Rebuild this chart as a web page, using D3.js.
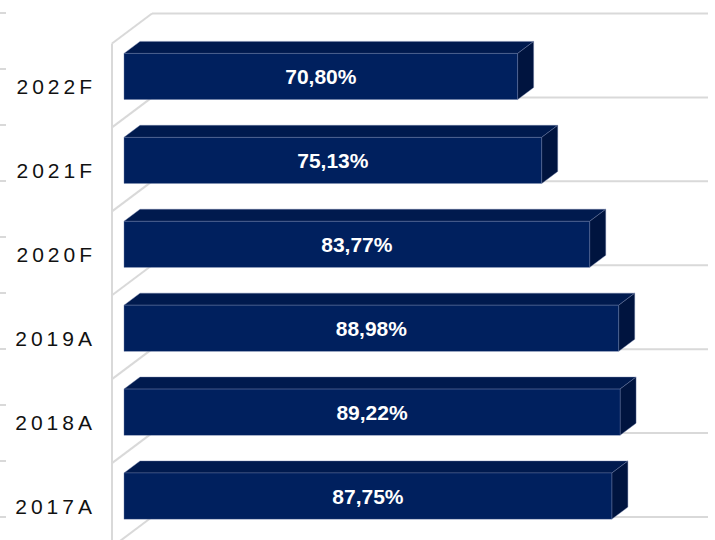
<!DOCTYPE html>
<html>
<head>
<meta charset="utf-8">
<script src="https://cdn.jsdelivr.net/npm/d3@7/dist/d3.min.js"></script>
<style>
  body { margin: 0; background: #fff; }
  text { font-family: "Liberation Sans", Arial, sans-serif; }
</style>
</head>
<body>
<div id="wrapper"></div>
<script>
// Data
const categories = ['2022F', '2021F', '2020F', '2019A', '2018A', '2017A'];
const values = [70.80, 75.13, 83.77, 88.98, 89.22, 87.75];
const xDomain = [0, 100];
const edgeTicks = d3.range(10); // cropped tick marks at the left edge

// Dimension
const dimension = {width: 715, height: 540};
const depth = {dx: 40, dy: -30};          // front plane -> back plane
const barDepth = {t0: 0.3, t1: 0.7};      // bar position inside the depth

// Canvas
const wrapper = d3.select('#wrapper').append('svg')
  .attr('width', dimension.width).attr('height', dimension.height);

// Scales (front plane)
const xScale = d3.scaleLinear().domain(xDomain).range([112, 668]);
const yScale = d3.scaleBand().domain(categories).range([43.5, 547])
  .paddingInner(0.45).paddingOuter(0.225);
const gridScale = d3.scaleLinear().domain([0, categories.length]).range([43.5, 547]);
const tickScale = d3.scaleLinear().domain([0, 9]).range([13, 517]);

const locale = d3.formatLocale({decimal: ',', thousands: '.', grouping: [3], currency: ['', '€']});
const fmt = d => locale.format('.2f')(d) + '%';

const grid = wrapper.append('g').attr('class', 'grid')
  .attr('stroke', '#d9d9d9').attr('stroke-width', 2).attr('fill', 'none');

// left edge ticks
grid.selectAll('.edge').data(edgeTicks).enter().append('line')
  .attr('x1', 0).attr('x2', 6)
  .attr('y1', d => tickScale(d)).attr('y2', d => tickScale(d));

// wall
grid.append('line')
  .attr('x1', xScale(0)).attr('x2', xScale(0))
  .attr('y1', gridScale(0)).attr('y2', dimension.height);

const bounds = d3.range(categories.length + 1);
grid.selectAll('.diag').data(bounds).enter().append('line')
  .attr('x1', xScale(0)).attr('y1', d => gridScale(d))
  .attr('x2', xScale(0) + depth.dx).attr('y2', d => gridScale(d) + depth.dy);
grid.selectAll('.hline').data(bounds).enter().append('line')
  .attr('x1', xScale(0) + depth.dx).attr('y1', d => gridScale(d) + depth.dy)
  .attr('x2', xScale(100) + depth.dx).attr('y2', d => gridScale(d) + depth.dy);

// bars
const ox = barDepth.t0 * depth.dx, oy = barDepth.t0 * depth.dy;
const ddx = (barDepth.t1 - barDepth.t0) * depth.dx, ddy = (barDepth.t1 - barDepth.t0) * depth.dy;
const h = yScale.bandwidth();
const data = categories.map((c, i) => ({c, v: values[i]}));

const bars = wrapper.append('g').selectAll('g').data(data).enter().append('g');
bars.each(function(d) {
  const g = d3.select(this);
  const x0 = xScale(0) + ox, x1 = xScale(d.v) + ox;
  const y0 = yScale(d.c) + oy;
  g.append('polygon')
    .attr('points', [[x0, y0], [x1, y0], [x1 + ddx, y0 + ddy], [x0 + ddx, y0 + ddy]].join(' '))
    .attr('fill', '#001a4e').attr('stroke', '#6f7fa8').attr('stroke-width', 0.4);
  g.append('polygon')
    .attr('points', [[x1, y0], [x1 + ddx, y0 + ddy], [x1 + ddx, y0 + h + ddy], [x1, y0 + h]].join(' '))
    .attr('fill', '#00143f').attr('stroke', '#6f7fa8').attr('stroke-width', 0.4);
  g.append('rect')
    .attr('x', x0).attr('y', y0).attr('width', x1 - x0).attr('height', h)
    .attr('fill', '#00205e').attr('stroke', '#6f7fa8').attr('stroke-width', 0.4);
  g.append('text')
    .attr('x', (x0 + x1) / 2).attr('y', y0 + h / 2 + 2)
    .attr('text-anchor', 'middle').attr('dominant-baseline', 'middle')
    .attr('fill', '#fff').attr('font-weight', 'bold').attr('font-size', 21)
    .text(fmt(d.v));
});

// category labels
wrapper.append('g').selectAll('text').data(categories).enter().append('text')
  .attr('x', 96).attr('y', d => yScale(d) + h / 2 + 3)
  .attr('text-anchor', 'end').attr('dominant-baseline', 'middle')
  .attr('font-size', 21).attr('letter-spacing', 4).attr('fill', '#111')
  .text(d => d);
</script>
</body>
</html>
